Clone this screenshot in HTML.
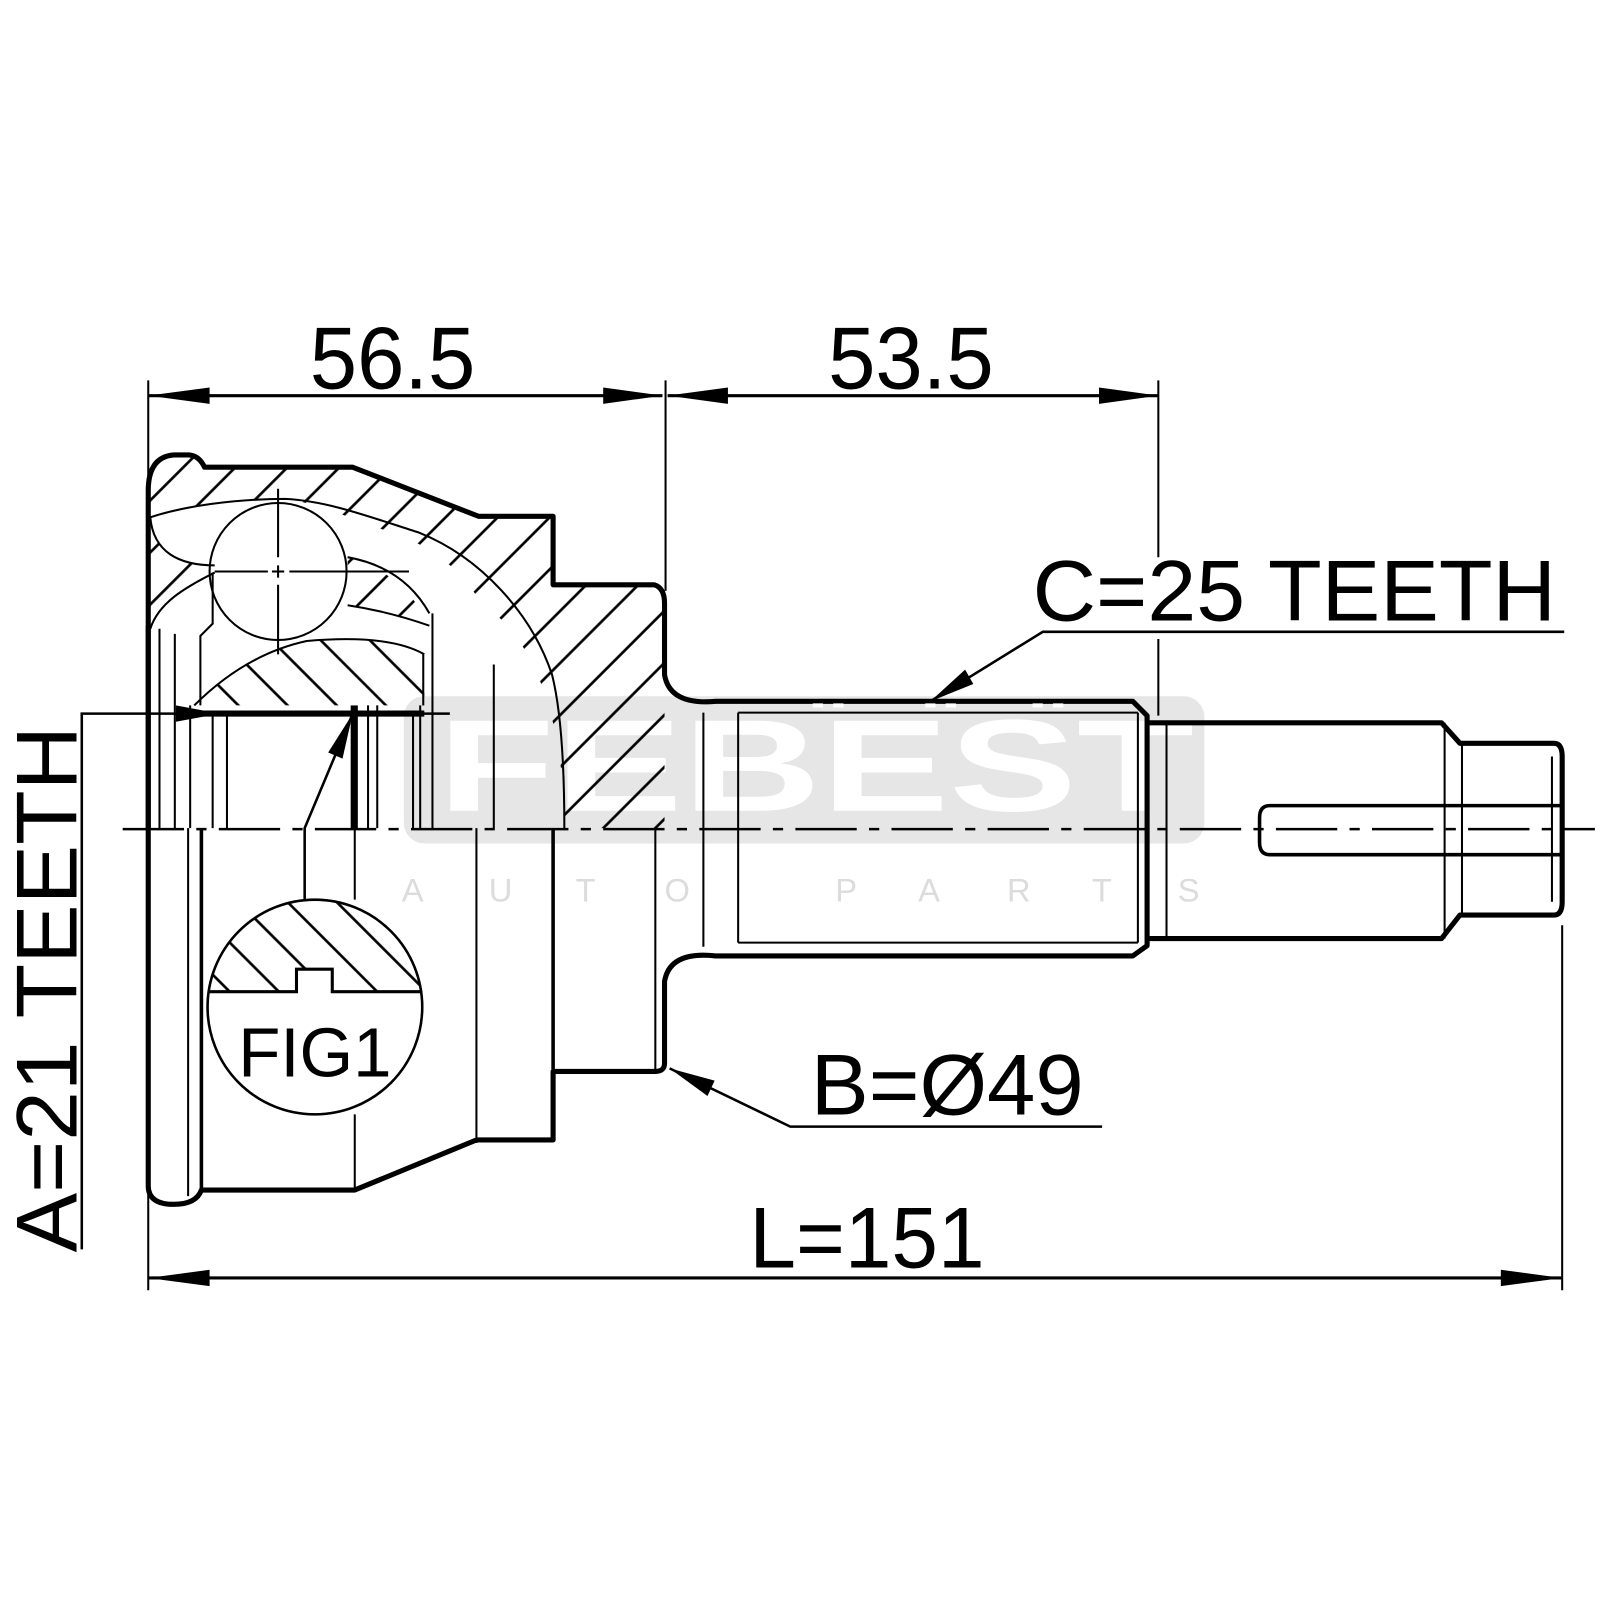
<!DOCTYPE html>
<html><head><meta charset="utf-8"><style>html,body{margin:0;padding:0;background:#fff}svg{display:block}</style></head>
<body>
<svg width="1600" height="1600" viewBox="0 0 1565 1565" xmlns="http://www.w3.org/2000/svg" font-family="Liberation Sans, sans-serif">
<defs>
<pattern id="h1" patternUnits="userSpaceOnUse" width="36" height="36" patternTransform="rotate(45)">
<line x1="18" y1="0" x2="18" y2="36" stroke="#000" stroke-width="2.6"/></pattern>
<pattern id="h2" patternUnits="userSpaceOnUse" width="34" height="34" patternTransform="rotate(-45)">
<line x1="17" y1="0" x2="17" y2="34" stroke="#000" stroke-width="2.6"/></pattern>
<clipPath id="fc"><circle cx="308" cy="985" r="105"/></clipPath>
</defs>
<rect width="1565" height="1565" fill="#fff"/>
<!-- watermark -->
<rect x="395" y="681" width="783" height="144" rx="20" fill="#e6e6e6"/>
<text x="428" y="793" font-size="128" font-weight="bold" fill="#fff" textLength="740" lengthAdjust="spacingAndGlyphs">FEBEST</text>
<g font-size="32" fill="#dcdcdc">
<text x="393" y="882">A</text><text x="478" y="882">U</text><text x="563" y="882">T</text><text x="650" y="882">O</text>
<text x="817" y="882">P</text><text x="898" y="882">A</text><text x="985" y="882">R</text><text x="1068" y="882">T</text><text x="1152" y="882">S</text>
</g>

<!-- hatched regions -->
<path d="M145,480 Q145,447 170,445 L185,445 Q195,446 200,457 L345,457 L468,505 L541,505 V572 L640,572 Q650,575 650,590 V810 H552 C552,700 520,620 470,590 C440,560 410,530 380,520 C340,505 300,490 279,488 C230,488 180,495 147,506 Z" fill="url(#h1)"/>
<path d="M147,506 C150,540 175,553 210,553 L210,560 C180,575 155,590 147,615 Z" fill="url(#h1)"/>
<path d="M190,690 Q240,640 300,627 Q380,620 415,640 V690 Z" fill="url(#h2)"/>
<path d="M340,545 Q395,555 420,600 L420,612 Q380,598 340,592 Z" fill="url(#h1)"/>
<circle cx="272" cy="559" r="67" fill="#fff"/>
<path d="M380,520 C420,532 455,560 470,590 C440,600 430,610 420,612 Q395,560 340,545 Z" fill="#fff"/>

<g fill="none" stroke="#000" stroke-width="2">
<path d="M147,506 C180,495 230,488 279,488 C320,490 360,505 410,521 C470,545 520,600 540,660 C550,700 552,760 552,810"/>
<path d="M147,506 C150,540 175,553 210,553"/>
<path d="M147,615 C155,590 180,575 210,560"/>
<path d="M340,545 Q395,555 420,600"/>
<path d="M340,592 Q380,598 420,612"/>
<path d="M190,690 Q240,640 300,627 Q380,620 415,640"/>
<circle cx="272" cy="559" r="67"/>
<line x1="272" y1="478" x2="272" y2="545"/><line x1="272" y1="553" x2="272" y2="565"/><line x1="272" y1="572" x2="272" y2="640"/>
<line x1="210" y1="559" x2="262" y2="559"/><line x1="266" y1="559" x2="278" y2="559"/><line x1="283" y1="559" x2="400" y2="559"/>
<path d="M208,560 V610 L196,622 V690"/>
<line x1="483" y1="650" x2="483" y2="810"/>
<line x1="156" y1="615" x2="156" y2="810"/><line x1="171" y1="620" x2="171" y2="810"/>
<line x1="186" y1="690" x2="186" y2="810"/><line x1="208" y1="698" x2="208" y2="810"/><line x1="222" y1="698" x2="222" y2="810"/>
<line x1="360" y1="690" x2="360" y2="810"/><line x1="369" y1="690" x2="369" y2="810"/>
<line x1="404" y1="698" x2="404" y2="810"/><line x1="411" y1="690" x2="411" y2="810"/><line x1="423" y1="600" x2="423" y2="810"/><line x1="414" y1="640" x2="414" y2="690"/>
<line x1="184" y1="810" x2="184" y2="1170"/><line x1="347" y1="810" x2="347" y2="880"/><line x1="347" y1="1090" x2="347" y2="1164"/>
<line x1="466" y1="810" x2="466" y2="1118"/><line x1="641" y1="810" x2="641" y2="1046"/>
<line x1="722" y1="697" x2="722" y2="922"/><line x1="1113" y1="697" x2="1113" y2="922"/>
<line x1="722" y1="697" x2="1113" y2="697"/><line x1="722" y1="922" x2="1113" y2="922"/>
<line x1="688" y1="697" x2="688" y2="926"/>
<line x1="1141" y1="707" x2="1141" y2="918"/>
<line x1="1413" y1="707" x2="1413" y2="918"/><line x1="1430" y1="727" x2="1430" y2="895"/>
<line x1="1518" y1="740" x2="1518" y2="882"/>
<line x1="145" y1="372" x2="145" y2="1262"/><line x1="651" y1="372" x2="651" y2="578"/>
<line x1="1133" y1="372" x2="1133" y2="545"/><line x1="1133" y1="625" x2="1133" y2="700"/>
<line x1="1528" y1="905" x2="1528" y2="1262"/>
<line x1="145" y1="387" x2="648" y2="387" stroke-width="3"/><line x1="653" y1="387" x2="1133" y2="387" stroke-width="3"/>
<line x1="145" y1="1250" x2="1528" y2="1250" stroke-width="3"/>
<path d="M1530,618 H1020 L910,686" stroke-width="2.5"/>
<path d="M1078,1102 H773 L655,1045" stroke-width="2.5"/>
<path d="M80,1222 V698 H440" stroke-width="2.5"/>
<path d="M298,880 V810 L345,698" stroke-width="2.5"/>
<circle cx="308" cy="985" r="105"/>
</g>
<line x1="120" y1="811" x2="1560" y2="811" stroke="#000" stroke-width="2.5" stroke-dasharray="60,12,10,12"/>

<g fill="none" stroke="#000" stroke-width="5" stroke-linejoin="round">
<path d="M145,810 V480 Q145,447 170,445 L185,445 Q195,446 200,457 L345,457 L468,505 L541,505 V572 L640,572 Q650,575 650,590 V660 Q655,690 700,686 H1108 L1122,700 V707 H1150 H1410 L1428,727 H1520 Q1528,727 1528,740 V882 Q1528,895 1520,895 H1428 L1410,918 H1150 H1122 V925 L1108,935 H700 Q655,930 650,960 V1040 Q650,1048 641,1048 H541 V1115 H466 L347,1164 H197 Q192,1178 170,1178 Q145,1178 145,1160 V810"/>
<path d="M1122,707 V918"/>
<path d="M1528,788 H1242 Q1232,788 1232,800 V824 Q1232,836 1242,836 H1528" stroke-width="3.5"/>
<path d="M197,810 V1164" stroke-width="3.5"/>
<path d="M541,1046 V810" stroke-width="3.5"/>
<path d="M184,698 H415" stroke-width="6"/>
<rect x="343" y="690" width="7" height="120" fill="#000" stroke="none"/>
<path d="M145,612 V810" />
</g>
<g fill="#fff"><rect x="795" y="688" width="10" height="4"/><rect x="815" y="688" width="10" height="4"/><rect x="905" y="688" width="10" height="4"/><rect x="925" y="688" width="10" height="4"/><rect x="1010" y="688" width="10" height="4"/><rect x="1030" y="688" width="10" height="4"/>
<rect x="795" y="928" width="10" height="4"/><rect x="815" y="928" width="10" height="4"/><rect x="905" y="928" width="10" height="4"/><rect x="925" y="928" width="10" height="4"/><rect x="1010" y="928" width="10" height="4"/><rect x="1030" y="928" width="10" height="4"/></g>

<g clip-path="url(#fc)">
<path d="M190,970 H290 V948 H325 V970 H420 V870 H190 Z" fill="url(#h2)"/>
</g>
<path d="M203,970 H290 V948 H325 V970 H413" fill="none" stroke="#000" stroke-width="3"/>
<circle cx="308" cy="985" r="105" fill="none" stroke="#000" stroke-width="2.5"/>

<g fill="#000">
<polygon points="145,387 205,379 205,395"/><polygon points="648,387 590,379 590,395"/>
<polygon points="653,387 712,379 712,395"/><polygon points="1133,387 1075,379 1075,395"/>
<polygon points="145,1250 205,1242 205,1258"/><polygon points="1528,1250 1468,1242 1468,1258"/>
<polygon points="910,686 952,669 944,655"/>
<polygon points="655,1045 699,1057 692,1072"/>
<polygon points="345,698 335,742 321,736"/>
<polygon points="215,698 172,690 172,706"/>
</g>

<g fill="#000" font-size="86">
<text x="303" y="380" textLength="162" lengthAdjust="spacingAndGlyphs">56.5</text>
<text x="810" y="380" textLength="162" lengthAdjust="spacingAndGlyphs">53.5</text>
<text x="1010" y="607" font-size="84" textLength="512" lengthAdjust="spacingAndGlyphs">C=25 TEETH</text>
<text x="793" y="1090" font-size="84" textLength="267" lengthAdjust="spacingAndGlyphs">B=Ø49</text>
<text x="733" y="1240" font-size="84" textLength="230" lengthAdjust="spacingAndGlyphs">L=151</text>
<text transform="translate(75,1225) rotate(-90)" font-size="84" textLength="515" lengthAdjust="spacingAndGlyphs">A=21 TEETH</text>
<text x="233" y="1053" font-size="68" textLength="150" lengthAdjust="spacingAndGlyphs">FIG1</text>
</g>
</svg>
</body></html>
